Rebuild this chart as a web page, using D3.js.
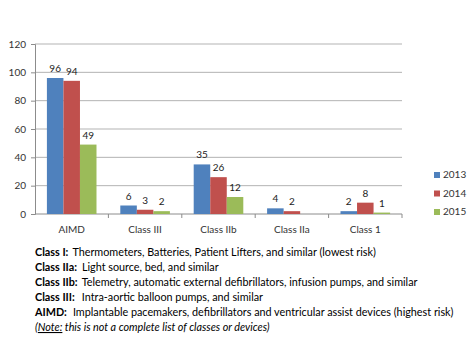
<!DOCTYPE html>
<html>
<head>
<meta charset="utf-8">
<script src="https://cdn.jsdelivr.net/npm/d3@7"></script>
<style>
  body { margin: 0; background: #fff; }
  svg { font-family: Lato, "Open Sans", sans-serif; }
</style>
</head>
<body>
<svg id="chart" width="473" height="360"></svg>
<script>
// data
const categories = ['AIMD', 'Class III', 'Class IIb', 'Class IIa', 'Class 1']
const years = ['2013', '2014', '2015']
const values2013 = [96, 6, 35, 4, 2]
const values2014 = [94, 3, 26, 2, 8]
const values2015 = [49, 2, 12, null, 1]
const yTicks = [0, 20, 40, 60, 80, 100, 120]
const notes = [
    ['Class I:', 'Thermometers, Batteries, Patient Lifters, and similar (lowest risk)'],
    ['Class IIa:', 'Light source, bed, and similar'],
    ['Class IIb:', 'Telemetry, automatic external defibrillators, infusion pumps, and similar'],
    ['Class III:', 'Intra-aortic balloon pumps,  and similar'],
    ['AIMD:', 'Implantable pacemakers, defibrillators and ventricular assist devices (highest risk)']
]

const series = [values2013, values2014, values2015]
const colors = ['#4F81BD', '#C0504D', '#9BBB59']

const svg = d3.select('#chart')
const plotLeft = 35, plotRight = 402, plotTop = 44, plotBottom = 214

//scales
const x = d3.scaleBand().domain(categories).range([plotLeft, plotRight])
const xInner = d3.scaleBand().domain(years).range([0, x.bandwidth()]).paddingOuter(0.72)
const y = d3.scaleLinear().domain([0, 120]).range([plotBottom, plotTop])

//gridlines
svg.append('g')
    .selectAll('line')
    .data(yTicks.slice(1))
    .enter()
    .append('line')
    .attr('x1', plotLeft).attr('x2', plotRight)
    .attr('y1', d => y(d)).attr('y2', d => y(d))
    .attr('stroke', '#b3b3b3')

//y axis
const yAxis = d3.axisLeft(y).tickValues(yTicks).tickSize(4).tickPadding(5)
svg.append('g')
    .attr('transform', 'translate(' + plotLeft + ',0)')
    .style('font-size', '10px')
    .call(yAxis)
    .call(g => g.attr('font-family', null))
    .call(g => g.selectAll('line, path').attr('stroke', '#8c8c8c'))
    .call(g => g.selectAll('text').attr('fill', '#333'))

//x axis
svg.append('line')
    .attr('x1', plotLeft).attr('x2', plotRight)
    .attr('y1', plotBottom).attr('y2', plotBottom)
    .attr('stroke', '#8c8c8c')
svg.append('g')
    .selectAll('line')
    .data(categories)
    .enter()
    .append('line')
    .attr('x1', d => x(d) + x.bandwidth()).attr('x2', d => x(d) + x.bandwidth())
    .attr('y1', plotBottom).attr('y2', plotBottom + 4)
    .attr('stroke', '#8c8c8c')
svg.append('g')
    .selectAll('text')
    .data(categories)
    .enter()
    .append('text')
    .attr('x', d => x(d) + x.bandwidth() / 2)
    .attr('y', plotBottom + 19)
    .attr('text-anchor', 'middle')
    .style('font-size', '10px')
    .attr('fill', '#333')
    .text(d => d)

//bars and labels
series.forEach((vals, s) => {
    const g = svg.append('g')
    const data = categories.map((c, i) => ({ c: c, v: vals[i] })).filter(d => d.v != null)
    g.selectAll('rect')
        .data(data)
        .enter()
        .append('rect')
        .attr('x', d => x(d.c) + xInner(years[s]))
        .attr('width', xInner.bandwidth())
        .attr('y', d => y(d.v))
        .attr('height', d => y(0) - y(d.v))
        .attr('fill', colors[s])
    g.selectAll('text')
        .data(data)
        .enter()
        .append('text')
        .attr('x', d => x(d.c) + xInner(years[s]) + xInner.bandwidth() / 2)
        .attr('y', d => y(d.v) - 6)
        .attr('text-anchor', 'middle')
        .style('font-size', '10px')
        .attr('fill', '#222')
        .text(d => d.v)
})

//legend
const legend = svg.append('g')
    .selectAll('g')
    .data(years)
    .enter()
    .append('g')
    .attr('transform', (d, i) => 'translate(434,' + (172 + i * 18.5) + ')')
legend.append('rect').attr('width', 6).attr('height', 6).attr('fill', (d, i) => colors[i])
legend.append('text')
    .attr('x', 9).attr('y', 6)
    .style('font-size', '10px')
    .attr('fill', '#333')
    .text(d => d)

//notes
const notesG = svg.append('g').style('font-size', '10.8px').attr('fill', '#000')
const dxs = [4, 5, 4, 7, 6]
notes.forEach((n, i) => {
    const t = notesG.append('text').attr('x', 35).attr('y', 256 + i * 15)
    t.append('tspan').attr('font-weight', 'bold').text(n[0])
    t.append('tspan').attr('dx', dxs[i]).text(n[1])
})
const last = notesG.append('text').attr('x', 35).attr('y', 331).style('font-style', 'italic')
last.append('tspan').text('(')
last.append('tspan').style('text-decoration', 'underline').text('Note:')
last.append('tspan').text(' this is  not a complete list  of classes or devices)')
</script>
</body>
</html>
